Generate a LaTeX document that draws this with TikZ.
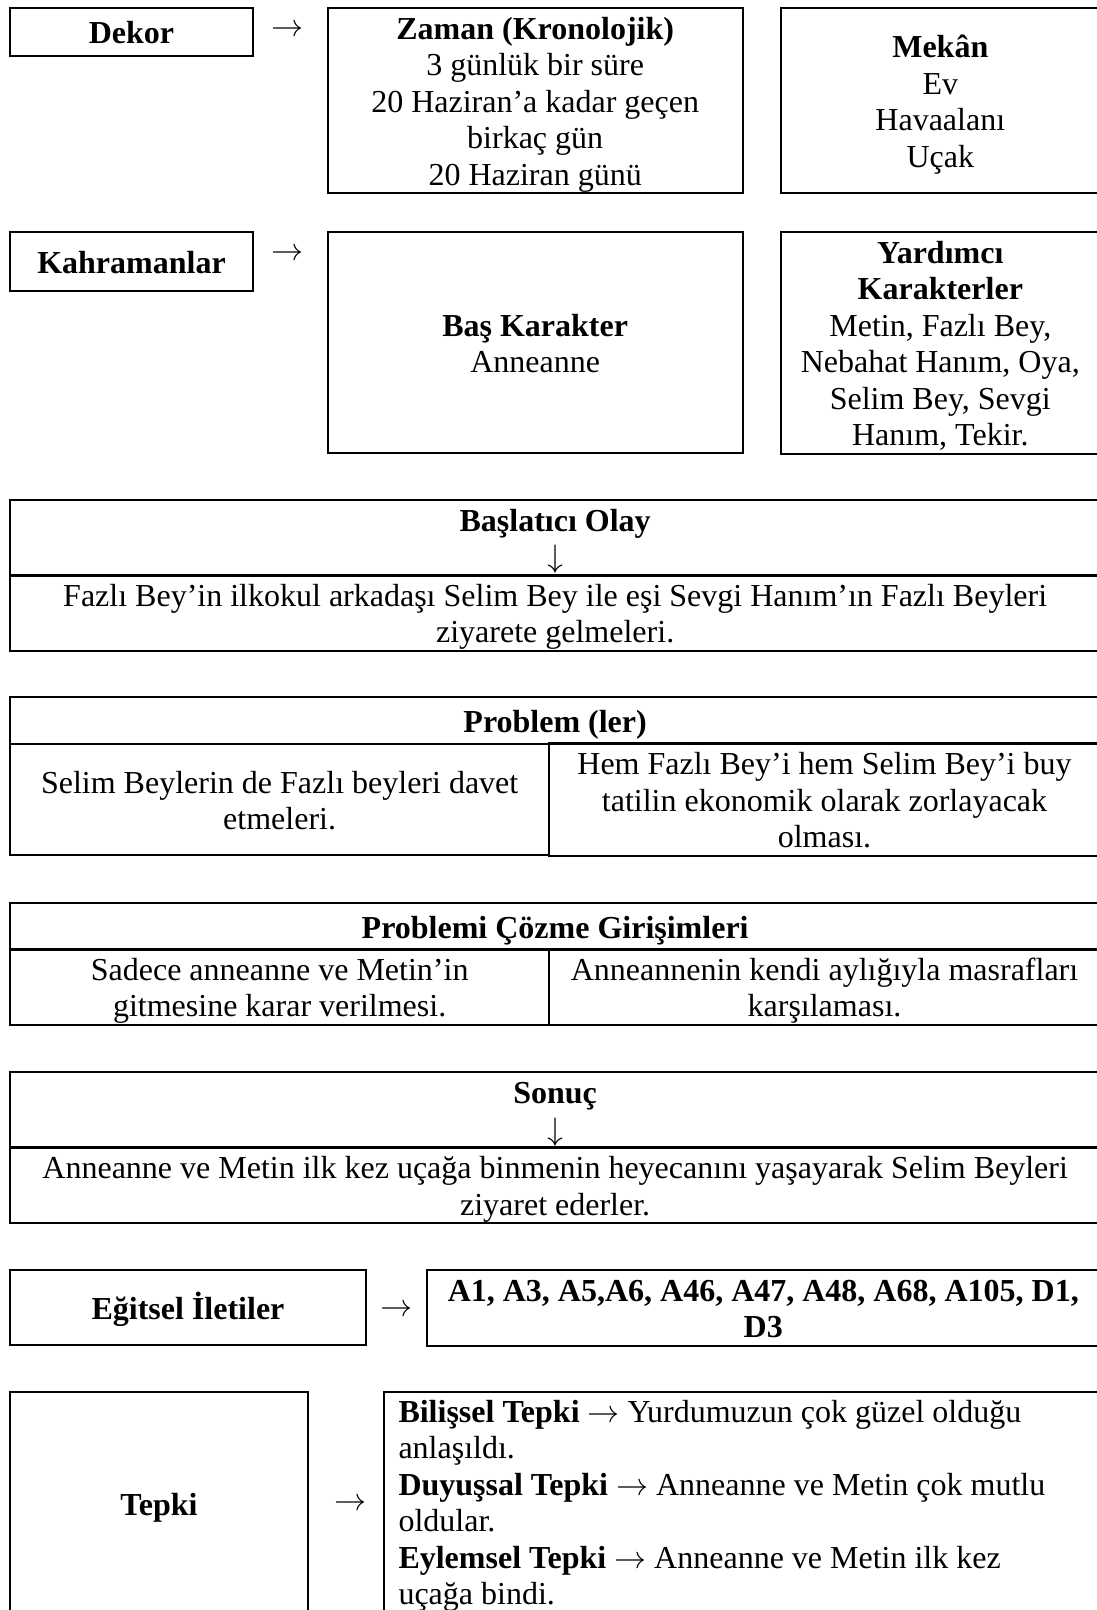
\documentclass[tikz,border=0pt]{standalone}
\usepackage{fontspec}
\usepackage{unicode-math}
\setmainfont{Liberation Serif}
\setmathfont{Latin Modern Math}
\newcommand\txtsize{\fontsize{32pt}{36.5pt}\selectfont}

\begin{document}
\begin{tikzpicture}[x=1pt,y=-1pt,every node/.style={font=\txtsize},
  drop/.store in=\celldrop,drop=1.5pt,
  cell/.style={draw,line width=2pt,inner sep=0pt,align=flush center,
    minimum width=#1,text width=#1,
    execute at begin node={\rule{0pt}{\dimexpr 28.5pt+\celldrop*2\relax}},
    execute at end node={\rule[-8pt]{0pt}{0pt}}},
  head/.style={cell=#1,font=\txtsize\bfseries},
  glyph/.style={inner sep=0pt}]
  \useasboundingbox (0,0) rectangle (1096,1610);

  % Row 1: setting (time and place)
  \node[head=242.4,minimum height=47.3] (dekor) at (131.5,31.9) {Dekor};
  \node[cell=415,minimum height=184.8] (zaman) at (535.2,100.6)
    {\textbf{Zaman (Kronolojik)}\\3 günlük bir süre\\20 Haziran’a kadar geçen\\birkaç gün\\20 Haziran günü};
  \node[cell=319.3,minimum height=184.8] (mekan) at (940.3,100.6)
    {\textbf{Mekân}\\Ev\\Havaalanı\\Uçak};

  % Row 2: characters
  \node[head=242.4,minimum height=58.7] (kahraman) at (131.5,261.4) {Kahramanlar};
  \node[cell=415,minimum height=221] (bas) at (535.2,342.5)
    {\textbf{Baş Karakter}\\Anneanne};
  \node[cell=319.3,minimum height=221] (yardimci) at (940.3,342.5)
    {\textbf{Yardımcı}\\\textbf{Karakterler}\\Metin, Fazlı Bey,\\Nebahat Hanım, Oya,\\Selim Bey, Sevgi\\Hanım, Tekir.};

  % Initiating event
  \node[cell=1089.7,minimum height=75] (olayhead) at (555.15,537.5)
    {\textbf{Başlatıcı Olay}\\$\downarrow$};
  \node[cell=1089.7,minimum height=75] (olaybody) at (555.15,612.5)
    {Fazlı Bey’in ilkokul arkadaşı Selim Bey ile eşi Sevgi Hanım’ın Fazlı Beyleri\\ziyarete gelmeleri.};

  % Problems
  \node[head=1089.7,minimum height=47] (probhead) at (555.15,720.5) {Problem (ler)};
  \node[cell=538.7,minimum height=111] (probleft) at (279.65,799.5)
    {Selim Beylerin de Fazlı beyleri davet\\etmeleri.};
  \node[cell=551,minimum height=111] (probright) at (824.5,799.5)
    {Hem Fazlı Bey’i hem Selim Bey’i buy\\tatilin ekonomik olarak zorlayacak\\olması.};

  % Attempts to solve
  \node[head=1089.7,minimum height=47.3] (cozhead) at (555.15,926.35) {Problemi Çözme Girişimleri};
  \node[cell=538.7,minimum height=73] (cozleft) at (279.65,986.5)
    {Sadece anneanne ve Metin’in\\gitmesine karar verilmesi.};
  \node[cell=551,minimum height=73] (cozright) at (824.5,986.5)
    {Anneannenin kendi aylığıyla masrafları\\karşılaması.};

  % Outcome
  \node[cell=1089.7,minimum height=75.3] (sonuchead) at (555.15,1110.35)
    {\textbf{Sonuç}\\$\downarrow$};
  \node[cell=1089.7,minimum height=74.7] (sonucbody) at (555.15,1185.35)
    {Anneanne ve Metin ilk kez uçağa binmenin heyecanını yaşayarak Selim Beyleri\\ziyaret ederler.};

  % Educational messages
  \node[head=355.4,minimum height=75] (egitsel) at (188,1307.5) {Eğitsel İletiler};
  \node[head=673.4,minimum height=75] (ileti) at (763.3,1307.5)
    {A1, A3, A5,A6, A46, A47, A48, A68, A105, D1,\\D3};

  % Reaction
  \node[head=297.4,minimum height=223.3] (tepki) at (159,1503.35) {Tepki};
  \node[cell=716,minimum height=223.3,text width=687,inner xsep=14.5pt,align=flush left,drop=0pt] (tepkiler) at (742,1503.35)
    {\textbf{Bilişsel Tepki} $\rightarrow$ Yurdumuzun çok güzel olduğu\\anlaşıldı.\\
     \textbf{Duyuşsal Tepki} $\rightarrow$ Anneanne ve Metin çok mutlu\\oldular.\\
     \textbf{Eylemsel Tepki} $\rightarrow$ Anneanne ve Metin ilk kez\\uçağa bindi.};

  % arrows between label boxes and their contents
  \foreach \n/\x/\y in {arrdekor/287/28,arrkahraman/287/252,arregitsel/396.5/1308,arrtepki/350/1502}
    \node[glyph] (\n) at (\x,\y) {$\rightarrow$};
\end{tikzpicture}
\end{document}
